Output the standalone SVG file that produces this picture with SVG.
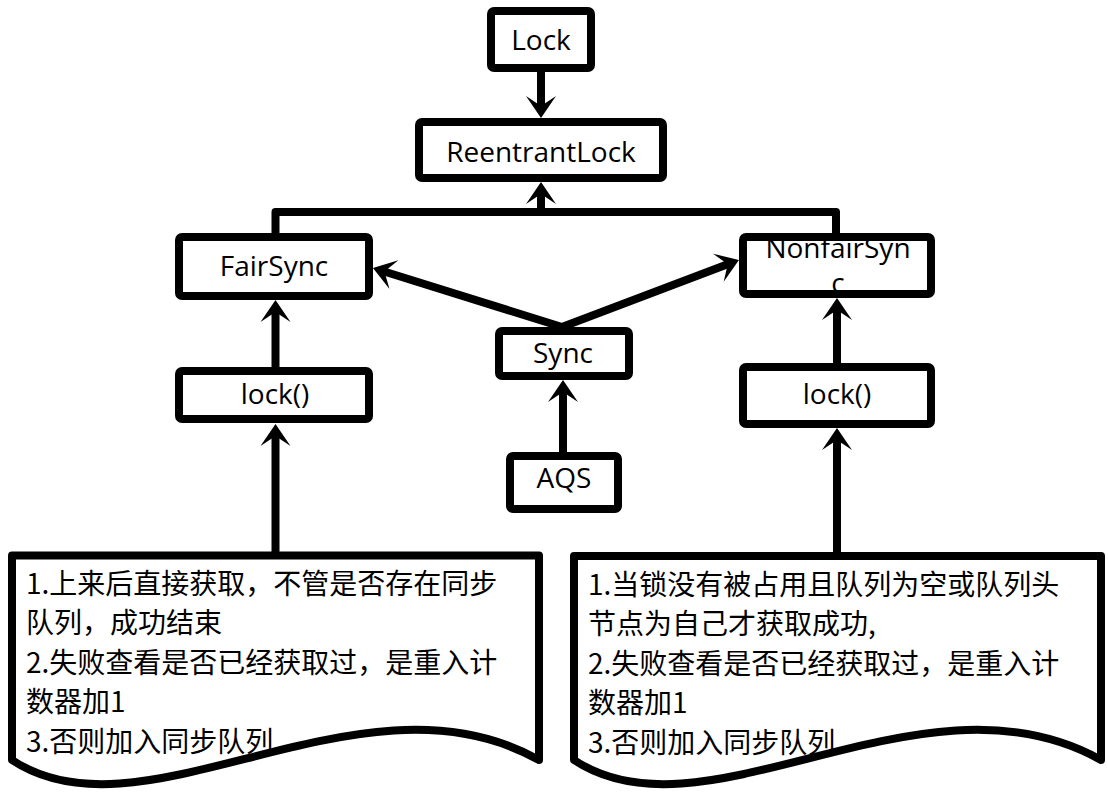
<svg xmlns="http://www.w3.org/2000/svg" width="1108" height="794" viewBox="0 0 1108 794">
<style>
.box{fill:#fff;stroke:#000;stroke-width:8;stroke-linejoin:round}
.lbl{font-family:"Open Sans","Liberation Sans",sans-serif;font-size:28px;fill:#000;text-anchor:middle}
.doc{fill:#fff;stroke:#000;stroke-width:8;stroke-linejoin:round}
.txt{font-family:"Noto Sans CJK SC","Noto Sans",sans-serif;font-size:28px;fill:#000}
.edge{fill:none;stroke:#000;stroke-width:8;stroke-linejoin:round}
</style>
<defs>
<marker id="ah" refX="0" refY="0" markerWidth="40" markerHeight="40" markerUnits="userSpaceOnUse" orient="auto" overflow="visible" style="overflow:visible">
<path d="M10,0 L-12,-15 L-2,0 L-12,15 Z" fill="#000"/>
</marker>
</defs>
<rect width="1108" height="794" fill="#fff"/>
<g id="lock">
<rect class="box" x="491" y="11" width="100" height="57" rx="3"/>
<text class="lbl" x="541" y="50">Lock</text>
</g>
<g id="reentrantlock">
<rect class="box" x="419" y="122" width="244" height="56" rx="3"/>
<text class="lbl" x="541" y="162">ReentrantLock</text>
</g>
<g id="fairsync">
<rect class="box" x="179" y="237" width="190" height="59" rx="3"/>
<text class="lbl" x="274" y="276">FairSync</text>
</g>
<g id="nonfairsync">
<rect x="743" y="237" width="188" height="57" fill="#fff"/>
<text class="lbl" x="838" y="258">NonfairSyn</text>
<text class="lbl" x="838" y="293">c</text>
<rect x="743" y="237" width="188" height="57" rx="3" fill="none" stroke="#000" stroke-width="8"/>
</g>
<g id="sync">
<rect class="box" x="499" y="331" width="130" height="45" rx="3"/>
<text class="lbl" x="563" y="363">Sync</text>
</g>
<g id="aqs">
<rect class="box" x="510" y="456" width="108" height="53" rx="3"/>
<text class="lbl" x="564" y="488">AQS</text>
</g>
<g id="lock-fair">
<rect class="box" x="179" y="371" width="190" height="48" rx="3"/>
<text class="lbl" x="275" y="404">lock()</text>
</g>
<g id="lock-nonfair">
<rect class="box" x="743" y="367" width="188" height="57" rx="3"/>
<text class="lbl" x="837" y="404">lock()</text>
</g>
<g id="doc-fair">
<path class="doc" d="M12,760 V555.5 H539 V760 C361,660 144,848 12,760 Z"/>
<text class="txt" x="26" y="594">1.上来后直接获取，不管是否存在同步</text>
<text class="txt" x="26" y="633">队列，成功结束</text>
<text class="txt" x="26" y="673">2.失败查看是否已经获取过，是重入计</text>
<text class="txt" x="26" y="712">数器加1</text>
<text class="txt" x="26" y="752">3.否则加入同步队列</text>
</g>
<g id="doc-nonfair">
<path class="doc" d="M574,760 V556 H1101 V760 C923,660 706,848 574,760 Z"/>
<text class="txt" x="588" y="595">1.当锁没有被占用且队列为空或队列头</text>
<text class="txt" x="588" y="634">节点为自己才获取成功,</text>
<text class="txt" x="588" y="674">2.失败查看是否已经获取过，是重入计</text>
<text class="txt" x="588" y="713">数器加1</text>
<text class="txt" x="588" y="753">3.否则加入同步队列</text>
</g>
<g id="connectors">
<path class="edge" d="M541,72 V108" marker-end="url(#ah)"/>
<path class="edge" d="M275.5,233 V212 H836 V233"/>
<path class="edge" d="M541,212 V192" marker-end="url(#ah)"/>
<path class="edge" d="M275.5,367 V310" marker-end="url(#ah)"/>
<path class="edge" d="M275.5,552 V434" marker-end="url(#ah)"/>
<path class="edge" d="M562,327 L382.5,271" marker-end="url(#ah)"/>
<path class="edge" d="M562,327 L729.6,263.5" marker-end="url(#ah)"/>
<path class="edge" d="M563,452 V390" marker-end="url(#ah)"/>
<path class="edge" d="M837,363 V308" marker-end="url(#ah)"/>
<path class="edge" d="M837,552 V438" marker-end="url(#ah)"/>
</g>
</svg>
